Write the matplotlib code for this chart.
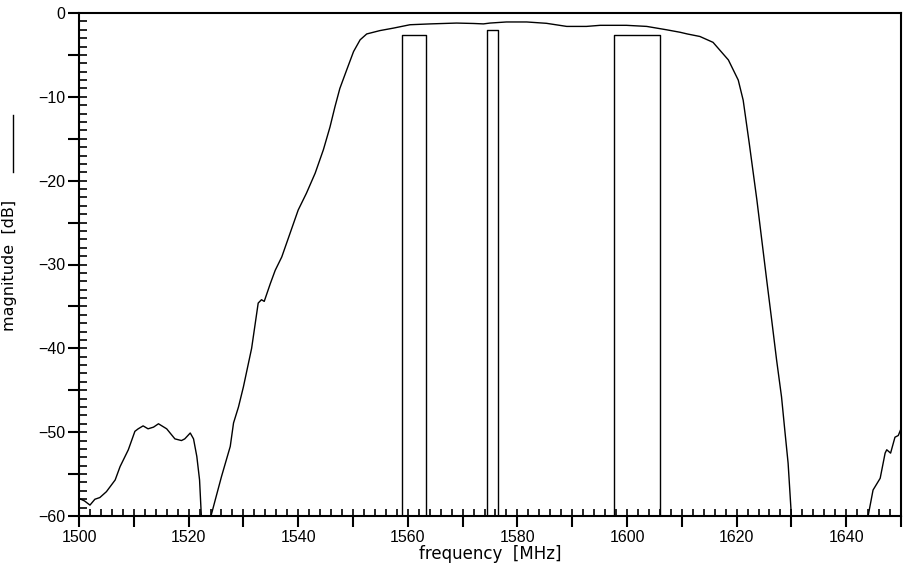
import numpy as np
import matplotlib.pyplot as plt
from matplotlib.ticker import MultipleLocator, FuncFormatter
from matplotlib.lines import Line2D

# measured filter response (values below -60 leave the plot)
freq = [1500.0, 1501.0, 1502.0, 1502.9, 1503.8, 1505.0, 1506.6, 1507.5, 1509.0, 1510.2,
        1510.8, 1511.7, 1512.6, 1513.6, 1514.5, 1516.0, 1517.5, 1518.7, 1519.3, 1520.3,
        1520.9, 1521.5, 1522.0, 1522.4, 1522.8, 1523.6, 1524.0, 1525.1, 1526.0, 1527.6,
        1528.2, 1529.1, 1530.0, 1531.5, 1532.7, 1533.3, 1533.8, 1534.9, 1535.8, 1537.0,
        1538.5, 1540.0, 1541.5, 1543.1, 1544.6, 1545.8, 1546.7, 1547.6, 1548.9, 1550.1,
        1551.3, 1552.5, 1554.9, 1557.4, 1560.4, 1564.1, 1568.9, 1572.0, 1573.8, 1575.0,
        1578.0, 1581.7, 1585.3, 1589.0, 1592.6, 1595.1, 1599.9, 1603.6, 1607.2, 1609.7,
        1611.0, 1613.3, 1615.7, 1618.5, 1620.3, 1621.2, 1622.3, 1623.7, 1624.6, 1625.5,
        1626.4, 1627.3, 1628.2, 1628.8, 1629.4, 1630.0, 1630.5, 1643.5, 1644.0, 1644.9,
        1646.2, 1647.1, 1647.4, 1648.1, 1648.9, 1649.5, 1650.0]
mag = [-57.9, -58.2, -58.7, -58.0, -57.8, -57.1, -55.7, -54.1, -52.1, -49.9,
       -49.6, -49.25, -49.6, -49.4, -49.0, -49.6, -50.8, -51.0, -50.8, -50.1,
       -50.8, -52.9, -55.7, -61.0, -68.0, -68.0, -60.2, -57.5, -55.3, -51.7,
       -48.9, -47.0, -44.6, -40.0, -34.6, -34.2, -34.4, -32.3, -30.7, -29.1,
       -26.3, -23.5, -21.5, -19.1, -16.3, -13.6, -11.2, -9.0, -6.7, -4.6,
       -3.2, -2.5, -2.1, -1.8, -1.4, -1.3, -1.2, -1.25, -1.3, -1.2,
       -1.07, -1.07, -1.23, -1.6, -1.6, -1.47, -1.47, -1.6, -2.0, -2.3,
       -2.5, -2.8, -3.5, -5.6, -8.0, -10.4, -15.5, -22.3, -27.1, -31.9,
       -36.6, -41.4, -45.8, -49.8, -53.7, -60.0, -66.0, -66.0, -60.0, -56.9,
       -55.5, -52.5, -52.1, -52.5, -50.6, -50.4, -49.6]

# passband masks
mask_lo = [1559.0, 1574.4, 1597.7]
mask_hi = [1563.3, 1576.4, 1606.0]
mask_top = [-2.6, -2.0, -2.6]

plt.rcParams['font.family'] = ['Liberation Sans', 'DejaVu Sans']

fig = plt.figure(figsize=(9.04, 5.69), dpi=100)
ax = fig.add_axes([79/904, 53/569, 822/904, 503/569])

ax.plot(freq, mag, color='black', lw=1.0)
for lo, hi, top in zip(mask_lo, mask_hi, mask_top):
    ax.plot([lo, lo, hi, hi], [-60, top, top, -60], color='black', lw=1.0)

ax.set_xlim(1500, 1650)
ax.set_ylim(-60, 0)

ax.xaxis.set_major_locator(MultipleLocator(10))
ax.xaxis.set_minor_locator(MultipleLocator(2))
ax.yaxis.set_major_locator(MultipleLocator(5))
ax.yaxis.set_minor_locator(MultipleLocator(1))
ax.xaxis.remove_overlapping_locs = False
ax.yaxis.remove_overlapping_locs = False


def label_every(step):
    def fmt(v, p):
        v = int(round(v))
        if v % step:
            return ''
        return ('\u2212%d' % -v) if v < 0 else '%d' % v
    return FuncFormatter(fmt)


ax.xaxis.set_major_formatter(label_every(20))
ax.yaxis.set_major_formatter(label_every(10))

ax.tick_params(which='major', direction='out', length=8, width=1.5, labelsize=11.5, pad=2)
ax.tick_params(which='minor', direction='in', length=6, width=1.2)
ax.tick_params(axis='x', which='minor', length=5)
ax.tick_params(top=False, right=False)

for s in ax.spines.values():
    s.set_linewidth(1.5)

ax.set_xlabel('frequency  [MHz]', fontsize=12, labelpad=0,
              family=['DejaVu Sans'])

fig.text(10/904, 1 - 265/569, 'magnitude  [dB]', rotation=90, fontsize=11.5,
         ha='center', va='center', family=['DejaVu Sans'])
fig.add_artist(Line2D([12.7/904, 12.7/904], [1 - 115/569, 1 - 172/569],
                      transform=fig.transFigure, color='black', lw=1.0))

fig.savefig('out.png', dpi=100)
